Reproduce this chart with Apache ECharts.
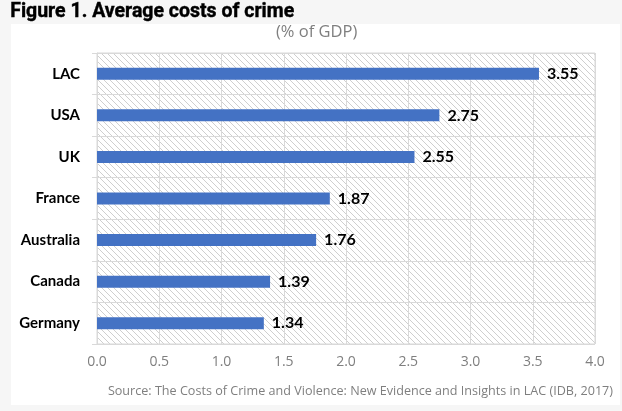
<!DOCTYPE html>
<html><head><meta charset="utf-8">
<script src="https://cdn.jsdelivr.net/npm/echarts@6/dist/echarts.min.js"></script>
<style>html,body{margin:0;padding:0;background:#f6f6f6;}#c{width:622px;height:411px;}</style>
</head><body><div id="c"></div>
<script>
const categories = ['LAC','USA','UK','France','Australia','Canada','Germany'];
const values = [3.55, 2.75, 2.55, 1.87, 1.76, 1.39, 1.34];
const xTicks = ['0.0','0.5','1.0','1.5','2.0','2.5','3.0','3.5','4.0'];

const pc = document.createElement('canvas');
pc.width = 6; pc.height = 6;
const g = pc.getContext('2d');
g.fillStyle = '#ffffff'; g.fillRect(0,0,6,6);
g.strokeStyle = '#cfcfcf'; g.lineWidth = 1;
g.beginPath(); g.moveTo(-1,-1); g.lineTo(7,7); g.moveTo(-7,-1); g.lineTo(1,7); g.moveTo(5,-1); g.lineTo(13,7); g.stroke();

const chart = echarts.init(document.getElementById('c'), null, {renderer:'canvas'});
chart.setOption({
  backgroundColor: '#f6f6f6',
  animation: false,
  graphic: [
    {type:'rect', shape:{x:11,y:24,width:609,height:381}, style:{fill:'#ffffff'}, z:-10},
    {type:'text', left:10, top:2, style:{text:'Figure 1. Average costs of crime', font:'bold 19.5px Roboto', fill:'#000', stroke:'#000', lineWidth:0.4}},
    {type:'text', left:276, top:24, style:{text:'(% of GDP)', font:'16.5px "Open Sans"', fill:'#7f7f7f'}},
    {type:'text', right:9, top:385, style:{text:'Source: The Costs of Crime and Violence: New Evidence and Insights in LAC (IDB, 2017)', font:'12.6px "Open Sans"', fill:'#7f7f7f'}}
  ],
  grid: {left:97, right:27, top:53, bottom:67, show:true, backgroundColor:{image:pc, repeat:'repeat'}, borderColor:'#d9d9d9', borderWidth:1},
  xAxis: {type:'value', min:0, max:4, interval:0.5,
    axisLine:{show:false}, axisTick:{show:false},
    splitLine:{show:true, lineStyle:{color:'#d9d9d9', width:1}},
    axisLabel:{color:'#7f7f7f', fontSize:14, fontFamily:'"Open Sans"', margin:11,
      formatter:function(v){return xTicks[Math.round(v/0.5)];}}},
  yAxis: {type:'category', data:categories, inverse:true,
    axisLine:{show:true, lineStyle:{color:'#d9d9d9'}},
    axisTick:{show:true, length:5, lineStyle:{color:'#d9d9d9'}},
    splitLine:{show:true, lineStyle:{color:'#d9d9d9'}},
    axisLabel:{color:'#000', fontSize:15, fontWeight:'bold', fontFamily:'Lato', margin:17}},
  series: [{type:'bar', data:values, barWidth:12, itemStyle:{color:'#4472c4'},
    label:{show:true, position:'right', distance:8, color:'#000', fontSize:16, fontWeight:'bold', fontFamily:'Lato',
      formatter:function(p){return p.value.toFixed(2);}}}]
});
</script></body></html>
